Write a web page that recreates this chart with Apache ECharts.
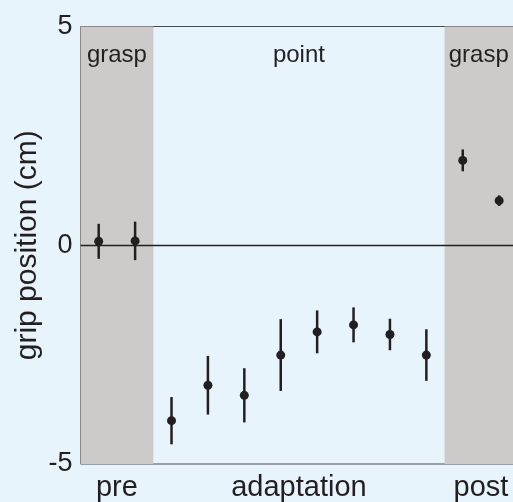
<!DOCTYPE html>
<html>
<head>
<meta charset="utf-8">
<script src="https://cdn.jsdelivr.net/npm/echarts@6/dist/echarts.min.js"></script>
<style>
  html, body { margin: 0; padding: 0; background: #e8f4fb; }
  #chart { width: 513px; height: 502px; }
</style>
</head>
<body>
<div id="chart"></div>
<script>
// trial positions: 2 pre, 8 adaptation, 2 post
const trialIndex = [0, 1, 2, 3, 4, 5, 6, 7, 8, 9, 10, 11]
const gripMean = [0.09, 0.10, -4.01, -3.20, -3.43, -2.51, -1.98, -1.82, -2.04, -2.51, 1.94, 1.02]
const gripErr = [0.40, 0.44, 0.54, 0.67, 0.62, 0.82, 0.49, 0.40, 0.36, 0.59, 0.25, 0.12]

// phases along the x axis
const phaseNames = ['pre', 'adaptation', 'post']
const phaseTasks = ['grasp', 'point', 'grasp']
const phaseStart = [-0.5, 1.5, 9.5]
const phaseEnd = [1.5, 9.5, 11.5]
const phaseCenter = [0.5, 5.5, 10.5]
const phaseShaded = [true, false, true]

const yTicks = [-5, 0, 5]
// the figure is cropped on the right, partway through the last trial
const xMin = -0.5
const xMax = 11.38

const ink = '#231f20'
const font = 'Liberation Sans, Arial, Helvetica, sans-serif'

let chart = echarts.init(document.getElementById('chart'))

let points = trialIndex.map((x, i) => [x, gripMean[i]])
let bars = trialIndex.map((x, i) => [x, gripMean[i] - gripErr[i], gripMean[i] + gripErr[i]])

let areas = phaseNames.map((name, i) => [
  {
    xAxis: phaseStart[i],
    yAxis: 5,
    itemStyle: { color: phaseShaded[i] ? '#cdcbca' : 'rgba(0,0,0,0)' },
    label: { show: true, formatter: phaseTasks[i] }
  },
  { xAxis: Math.min(phaseEnd[i], xMax), yAxis: -5 }
])

let option = {
  backgroundColor: '#e8f4fb',
  animation: false,
  grid: {
    left: 80.5,
    top: 26.5,
    right: 0,
    height: 437.5,
    show: true,
    borderColor: '#4a4a4a',
    borderWidth: 1,
    backgroundColor: 'transparent'
  },
  xAxis: {
    type: 'value',
    min: xMin,
    max: xMax,
    axisLine: { show: false },
    axisTick: { show: false },
    splitLine: { show: false },
    axisLabel: {
      customValues: phaseCenter,
      formatter: (v) => phaseNames[phaseCenter.indexOf(v)] || '',
      color: ink,
      fontFamily: font,
      fontSize: 29,
      margin: 9
    }
  },
  yAxis: {
    type: 'value',
    min: yTicks[0],
    max: yTicks[yTicks.length - 1],
    interval: 5,
    name: 'grip position (cm)',
    nameLocation: 'middle',
    nameGap: 38,
    nameMoveOverlap: false,
    nameTextStyle: { color: ink, fontFamily: font, fontSize: 30 },
    axisLine: { show: false },
    axisTick: { show: false },
    splitLine: { show: false },
    axisLabel: { color: ink, fontFamily: font, fontSize: 27, margin: 8 }
  },
  series: [
    {
      type: 'custom',
      z: 3,
      silent: true,
      data: bars,
      renderItem: (params, api) => {
        let lo = api.coord([api.value(0), api.value(1)])
        let hi = api.coord([api.value(0), api.value(2)])
        return {
          type: 'line',
          shape: { x1: lo[0], y1: lo[1], x2: hi[0], y2: hi[1] },
          style: { stroke: ink, lineWidth: 2.5 }
        }
      },
      markArea: {
        silent: true,
        label: {
          position: 'insideTop',
          distance: 17,
          color: ink,
          fontFamily: font,
          fontSize: 24
        },
        data: areas
      },
      markLine: {
        silent: true,
        symbol: 'none',
        label: { show: false },
        lineStyle: { color: ink, width: 1.3, type: 'solid' },
        data: [{ yAxis: 0 }]
      }
    },
    {
      type: 'scatter',
      z: 4,
      silent: true,
      symbol: 'circle',
      symbolSize: 9,
      itemStyle: { color: ink, opacity: 1 },
      data: points
    }
  ]
}
chart.setOption(option)
</script>
</body>
</html>
